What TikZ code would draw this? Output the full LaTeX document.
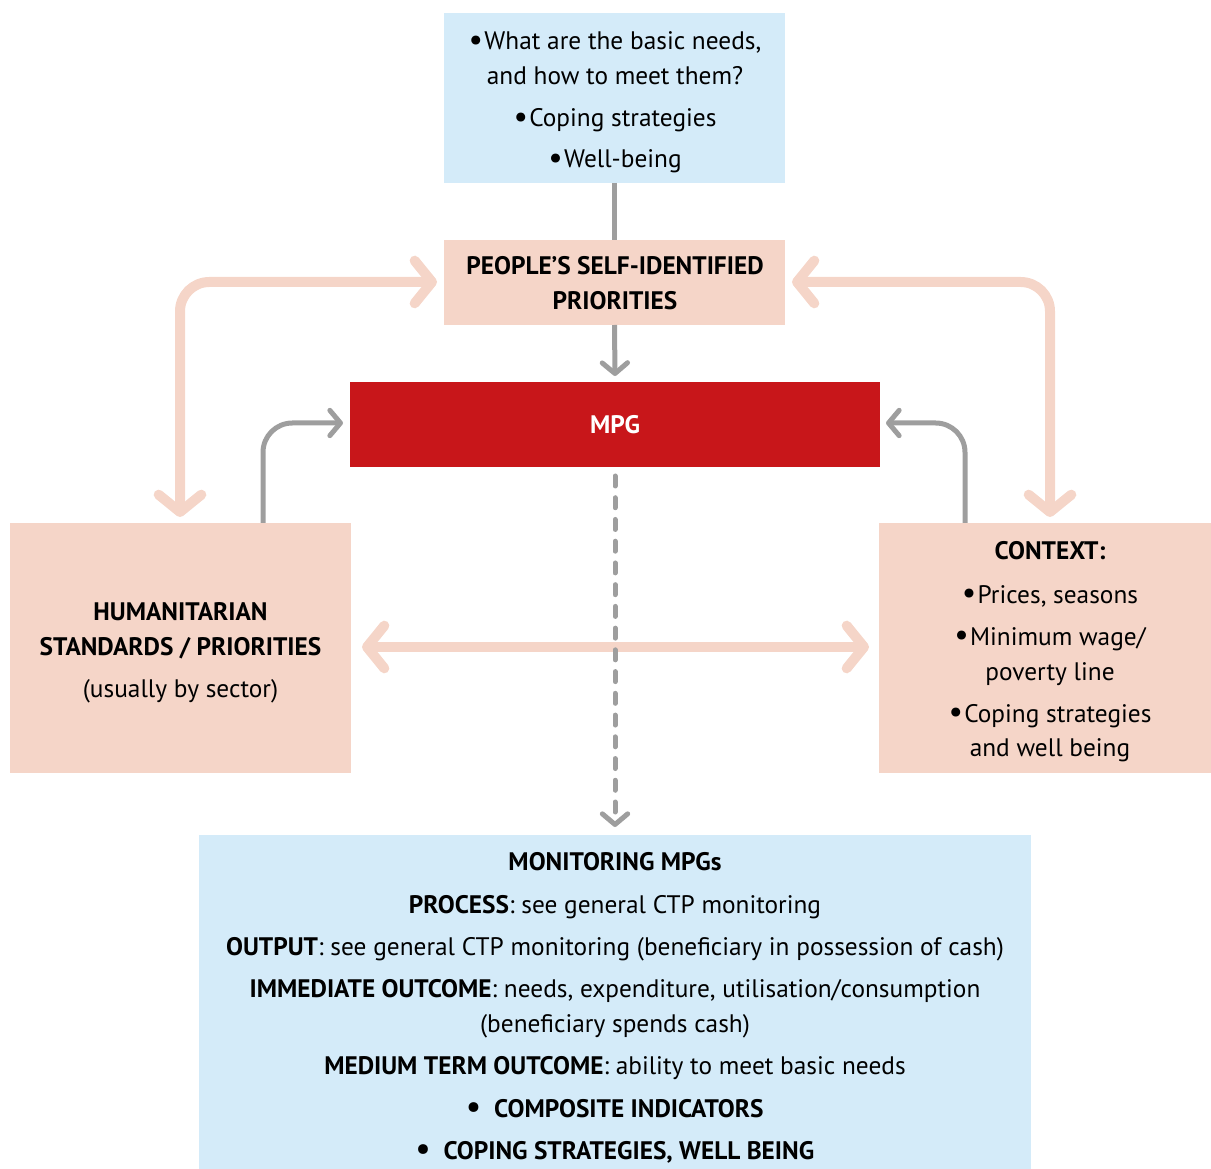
\documentclass[tikz,border=0pt]{standalone}
\usepackage{fontspec}
\setmainfont{PT Sans}
\usetikzlibrary{arrows.meta}
\definecolor{bluebox}{HTML}{D4EBF9}
\definecolor{pinkbox}{HTML}{F5D5C8}
\definecolor{redbox}{HTML}{C8161A}
\definecolor{grayline}{HTML}{9E9E9E}
\newcommand{\bul}{{\fontsize{24}{24}\selectfont\raisebox{-0.5pt}{\textbullet}}\hspace{1pt}}
\begin{document}
\begin{tikzpicture}[x=0.75pt,y=-0.75pt,
  box/.style={draw=none,inner sep=0pt,outer sep=0pt},
  txt/.style={inner sep=0pt,font=\fontsize{19}{22}\selectfont,anchor=base},
  btxt/.style={txt,font=\fontsize{19}{22}\selectfont\bfseries},
  pinkarrow/.style={line width=7.5pt,draw=pinkbox,line cap=round,rounded corners=22pt,
    arrows={Straight Barb[length=13pt,width=32pt,line width=7.5pt,round]-Straight Barb[length=13pt,width=32pt,line width=7.5pt,round]}},
  grayarrow/.style={line width=3.75pt,draw=grayline,rounded corners=22pt,
    -{Straight Barb[length=8pt,width=19pt,round]}},
]
\useasboundingbox (0,0) rectangle (1211,1169);
% boxes
\fill[bluebox] (444,13) rectangle (785,183);
\node[box] (needs) at (614.5,98) {};
\fill[pinkbox] (444,240) rectangle (785,325);
\node[box] (prio) at (614.5,282.5) {};
\coordinate (prioT) at (614.5,240);
\coordinate (prioB) at (614.5,325);
\coordinate (needsB) at (614.5,183);
\coordinate (prioL) at (437,282);
\coordinate (prioR) at (792,282);
\fill[redbox] (350,382) rectangle (880,467);
\node[box] (mpg) at (615,424.5) {};
\coordinate (mpgT) at (615,376);
\coordinate (mpgB) at (615,476);
\coordinate (mpgL) at (343,423);
\coordinate (mpgR) at (886,423);
\fill[pinkbox] (10,523) rectangle (351,773);
\node[box] (hum) at (180.5,648) {};
\coordinate (humT) at (180,517);
\coordinate (humTg) at (263,523);
\coordinate (humR) at (362,647);
\fill[pinkbox] (879,523) rectangle (1211,773);
\node[box] (ctx) at (1045,648) {};
\coordinate (ctxT) at (1050,517);
\coordinate (ctxTg) at (965,523);
\coordinate (ctxL) at (869,647);
\fill[bluebox] (199,835) rectangle (1031,1169);
\node[box] (mon) at (615,1002) {};
\coordinate (monT) at (615,827);

% texts top box
\node[txt] (t1) at (615,50) {\bul What are the basic needs,};
\node[txt] (t2) at (615,85) {and how to meet them?};
\node[txt] (t3) at (615,127) {\bul Coping strategies};
\node[txt] (t4) at (615,168) {\bul Well-being};
% priorities
\node[btxt] (p1) at (615,275) {PEOPLE’S SELF-IDENTIFIED};
\node[btxt] (p2) at (615,310) {PRIORITIES};
% MPG
\node[btxt,text=white] (m1) at (615,434) {MPG};
% left
\node[btxt] (h1) at (180.5,620) {HUMANITARIAN};
\node[btxt] (h2) at (180.5,655) {STANDARDS / PRIORITIES};
\node[txt] (h3) at (180.5,697) {(usually by sector)};
% right
\node[btxt] (c1) at (1050,560) {CONTEXT:};
\node[txt] (c2) at (1050,603) {\bul Prices, seasons};
\node[txt] (c3) at (1050,645) {\bul Minimum wage/};
\node[txt] (c4) at (1050,680) {poverty line};
\node[txt] (c5) at (1050,722) {\bul Coping strategies};
\node[txt] (c6) at (1050,756) {and well being};
% bottom
\node[btxt] (b1) at (615,870) {MONITORING MPGs};
\node[txt] (b2) at (615,913) {\textbf{PROCESS}: see general CTP monitoring};
\node[txt] (b3) at (615,955) {\textbf{OUTPUT}: see general CTP monitoring (beneficiary in possession of cash)};
\node[txt] (b4) at (615,997) {\textbf{IMMEDIATE OUTCOME}: needs, expenditure, utilisation/consumption};
\node[txt] (b5) at (615,1032) {(beneficiary spends cash)};
\node[txt] (b6) at (615,1074) {\textbf{MEDIUM TERM OUTCOME}: ability to meet basic needs};
\node[btxt] (b7) at (615,1117) {\bul\hspace{9pt}COMPOSITE INDICATORS};
\node[btxt] (b8) at (615,1159) {\bul\hspace{9pt}COPING STRATEGIES, WELL BEING};

% connectors
\draw[line width=3.75pt,draw=grayline] (needsB) -- (prioT);
\draw[grayarrow] (prioB) -- (mpgT);
\draw[pinkarrow] (humT) |- (prioL);
\draw[pinkarrow] (ctxT) |- (prioR);
\draw[grayarrow] (humTg) |- (mpgL);
\draw[grayarrow] (ctxTg) |- (mpgR);
\draw[pinkarrow,rounded corners=0pt] (humR) -- (ctxL);
\draw[grayarrow,line cap=round,dash pattern=on 7.5pt off 8.8pt] (mpgB) -- (monT);
\end{tikzpicture}
\end{document}
